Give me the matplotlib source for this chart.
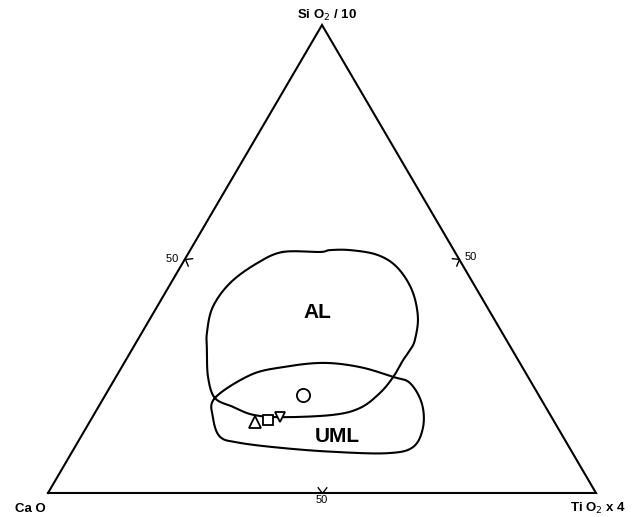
import matplotlib
matplotlib.use("Agg")
import matplotlib.pyplot as plt
import numpy as np
from matplotlib.path import Path
from matplotlib.markers import MarkerStyle
from matplotlib.transforms import Affine2D

plt.rcParams['font.family'] = ['Liberation Sans', 'DejaVu Sans']

# ternary data, percent (SiO2/10, TiO2x4), CaO = 100 - rest
al_sio2 = [51.5, 51.5, 51.9, 51.9, 50.9, 48.3, 43.4, 37.6, 32.7, 30.6, 28.4, 24.8, 21.4,
           18.2, 16.7, 16.2, 16.7, 18.4, 20.3, 24.8, 30.6, 34.2, 39.7, 44.9, 49.1]
al_tio2 = [17.1, 23.9, 25.5, 29.2, 34.6, 39.5, 44.7, 48.7, 50.6, 50.8, 50.6, 50.6, 49.9,
           47.9, 43.7, 34.8, 29.1, 24.6, 20.3, 16.8, 13.7, 11.9, 10.2, 10.8, 13.6]
uml_sio2 = [20.3, 25.2, 26.9, 27.8, 26.9, 24.8, 23.5, 19.2, 14.1, 9.8, 8.5, 8.8, 9.6,
            10.7, 12.0, 16.2]
uml_tio2 = [20.3, 24.3, 29.4, 36.3, 43.5, 50.6, 54.3, 58.6, 61.4, 61.7, 57.6, 47.6, 38.1,
            29.7, 25.4, 22.0]
samples = ['circle', 'triangle', 'square', 'inv_triangle']
samp_sio2 = [20.9, 15.2, 15.6, 16.2]
samp_tio2 = [36.1, 30.2, 32.4, 34.2]
samp_marker = ['o', '^', 's', 'v']
samp_size = [9.5, 8, 7, 7.5]


def tern(si, ti):
    si = np.asarray(si) / 100.0
    ti = np.asarray(ti) / 100.0
    return ti + si / 2.0, si


def smooth_closed(x, y, n=20):
    x = np.asarray(x)
    y = np.asarray(y)
    m = len(x)
    xs, ys = [], []
    t = np.linspace(0, 1, n, endpoint=False)
    for i in range(m):
        p0 = np.array([x[i - 1], y[i - 1]])
        p1 = np.array([x[i], y[i]])
        p2 = np.array([x[(i + 1) % m], y[(i + 1) % m]])
        p3 = np.array([x[(i + 2) % m], y[(i + 2) % m]])
        for tt in t:
            pt = 0.5 * (2 * p1 + (-p0 + p2) * tt + (2 * p0 - 5 * p1 + 4 * p2 - p3) * tt ** 2
                        + (-p0 + 3 * p1 - 3 * p2 + p3) * tt ** 3)
            xs.append(pt[0])
            ys.append(pt[1])
    xs.append(xs[0])
    ys.append(ys[0])
    return xs, ys


fig = plt.figure(figsize=(6.42, 5.17), dpi=100)
ax = fig.add_axes([0, 0, 1, 1])
ax.set_xlim(-48 / 548, 594 / 548)
ax.set_ylim(-24 / 468, 493 / 468)
ax.axis('off')

lw = 1.5
ax.plot([0, 1, 0.5, 0], [0, 0, 1, 0], color='black', lw=lw, solid_joinstyle='miter')

for si, ti in [(al_sio2, al_tio2), (uml_sio2, uml_tio2)]:
    cx, cy = tern(si, ti)
    sx, sy = smooth_closed(cx, cy)
    ax.plot(sx, sy, color='black', lw=lw)

for si, ti, mk, ms in zip(samp_sio2, samp_tio2, samp_marker, samp_size):
    px, py = tern(si, ti)
    ax.plot(px, py, marker=mk, ms=ms, mfc='white', mec='black', mew=1.3, ls='none')

# 50 ticks (chevrons, vertex on the edge, arms pointing inward)
chev = Path([(-1, 0.75), (0, 0), (-1, -0.75)], [Path.MOVETO, Path.LINETO, Path.LINETO])
fig.canvas.draw()
T = ax.transData.transform
eL = T((0.5, 1)) - T((0, 0))
eR = T((0.5, 1)) - T((1, 0))
in_left = np.degrees(np.arctan2(-eL[0], eL[1]))
in_right = np.degrees(np.arctan2(eR[0], -eR[1]))
ticks = [((0.25, 0.5), in_left), ((0.75, 0.5), in_right), ((0.5, 0.0), 90.0)]
for (tx, ty), ang in ticks:
    m = MarkerStyle(chev, transform=Affine2D().rotate_deg(ang - 180))
    ax.plot(tx, ty, marker=m, ms=9, mec='black', mfc='none', mew=1.0, ls='none')

ax.text(0.25, 0.5, '50  ', ha='right', va='center', fontsize=8)
ax.text(0.76, 0.505, '50', ha='left', va='center', fontsize=8)
ax.text(0.5, -0.005, '50', ha='center', va='top', fontsize=8)

ax.text(0.51, 1.004, 'Si O$_2$ / 10', ha='center', va='bottom', fontsize=9.5, fontweight='bold')
ax.text(-0.033, -0.034, 'Ca O', ha='center', va='center', fontsize=9.5, fontweight='bold')
ax.text(1.003, -0.034, 'Ti O$_2$ x 4', ha='center', va='center', fontsize=9.5, fontweight='bold')

lx, ly = tern(38.5, 29.9)
ax.text(lx, ly, 'AL', ha='center', va='center', fontsize=15, fontweight='bold')
lx, ly = tern(12.0, 46.8)
ax.text(lx, ly, 'UML', ha='center', va='center', fontsize=15, fontweight='bold')

fig.savefig('out.png', dpi=100)
